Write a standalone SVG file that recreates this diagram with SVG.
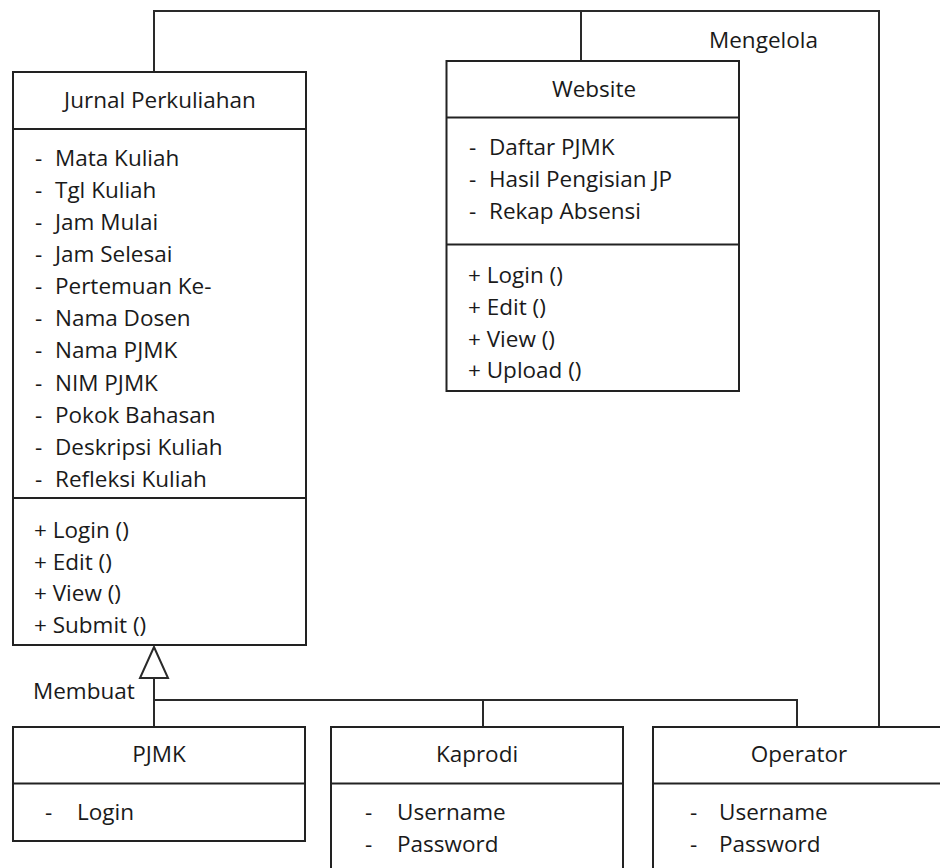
<svg xmlns="http://www.w3.org/2000/svg" width="940" height="868" viewBox="0 0 940 868">
<style>
.box{fill:#fff;stroke:#222;stroke-width:2}
.ln{fill:none;stroke:#222;stroke-width:2}
.conn{fill:none;stroke:#2a2a2a;stroke-width:2}
text{font-family:"Open Sans","Liberation Sans",sans-serif;font-size:22.5px;fill:#1a1a1a}
.c{text-anchor:middle}
</style>
<rect width="940" height="868" fill="#fff"/>
<g id="connectors">
<path class="conn" d="M154 72 V11 H879 V727"/>
<path class="conn" d="M581 11 V61"/>
<path class="conn" d="M154 678 V727"/>
<path class="conn" d="M154 700 H797 V727"/>
<path class="conn" d="M483 700 V727"/>
<polygon points="154,647 140,678 168,678" fill="#fff" stroke="#2a2a2a" stroke-width="2"/>
<text x="709" y="48">Mengelola</text>
<text x="33" y="699">Membuat</text>
</g>
<g id="jurnal">
<rect class="box" x="13" y="72" width="293" height="573"/>
<line class="ln" x1="13" y1="129" x2="306" y2="129"/>
<line class="ln" x1="13" y1="498" x2="306" y2="498"/>
<text class="c" x="160" y="108">Jurnal Perkuliahan</text>
<text x="35" y="166">-<tspan x="55">Mata Kuliah</tspan></text>
<text x="35" y="198">-<tspan x="55">Tgl Kuliah</tspan></text>
<text x="35" y="230">-<tspan x="55">Jam Mulai</tspan></text>
<text x="35" y="262">-<tspan x="55">Jam Selesai</tspan></text>
<text x="35" y="294">-<tspan x="55">Pertemuan Ke-</tspan></text>
<text x="35" y="326">-<tspan x="55">Nama Dosen</tspan></text>
<text x="35" y="358">-<tspan x="55">Nama PJMK</tspan></text>
<text x="35" y="391">-<tspan x="55">NIM PJMK</tspan></text>
<text x="35" y="423">-<tspan x="55">Pokok Bahasan</tspan></text>
<text x="35" y="455">-<tspan x="55">Deskripsi Kuliah</tspan></text>
<text x="35" y="487">-<tspan x="55">Refleksi Kuliah</tspan></text>
<text x="34" y="538">+ Login ()</text>
<text x="34" y="570">+ Edit ()</text>
<text x="34" y="601">+ View ()</text>
<text x="34" y="633">+ Submit ()</text>
</g>
<g id="website">
<rect class="box" x="446.5" y="61" width="292.5" height="330"/>
<line class="ln" x1="446.5" y1="117.5" x2="739" y2="117.5"/>
<line class="ln" x1="446.5" y1="244.5" x2="739" y2="244.5"/>
<text class="c" x="594" y="97">Website</text>
<text x="469" y="155">-<tspan x="489">Daftar PJMK</tspan></text>
<text x="469" y="187">-<tspan x="489">Hasil Pengisian JP</tspan></text>
<text x="469" y="219">-<tspan x="489">Rekap Absensi</tspan></text>
<text x="468" y="283">+ Login ()</text>
<text x="468" y="315">+ Edit ()</text>
<text x="468" y="347">+ View ()</text>
<text x="468" y="378">+ Upload ()</text>
</g>
<g id="pjmk">
<rect class="box" x="13" y="727" width="292" height="114"/>
<line class="ln" x1="13" y1="783.5" x2="305" y2="783.5"/>
<text class="c" x="159" y="762">PJMK</text>
<text x="45" y="820">-<tspan x="77">Login</tspan></text>
</g>
<g id="kaprodi">
<rect class="box" x="331" y="727" width="292" height="160"/>
<line class="ln" x1="331" y1="783.5" x2="623" y2="783.5"/>
<text class="c" x="477" y="762">Kaprodi</text>
<text x="365" y="820">-<tspan x="397">Username</tspan></text>
<text x="365" y="852">-<tspan x="397">Password</tspan></text>
</g>
<g id="operator">
<rect class="box" x="653" y="727" width="300" height="160"/>
<line class="ln" x1="653" y1="783.5" x2="953" y2="783.5"/>
<text class="c" x="799" y="762">Operator</text>
<text x="690" y="820">-<tspan x="719">Username</tspan></text>
<text x="690" y="852">-<tspan x="719">Password</tspan></text>
</g>
</svg>
